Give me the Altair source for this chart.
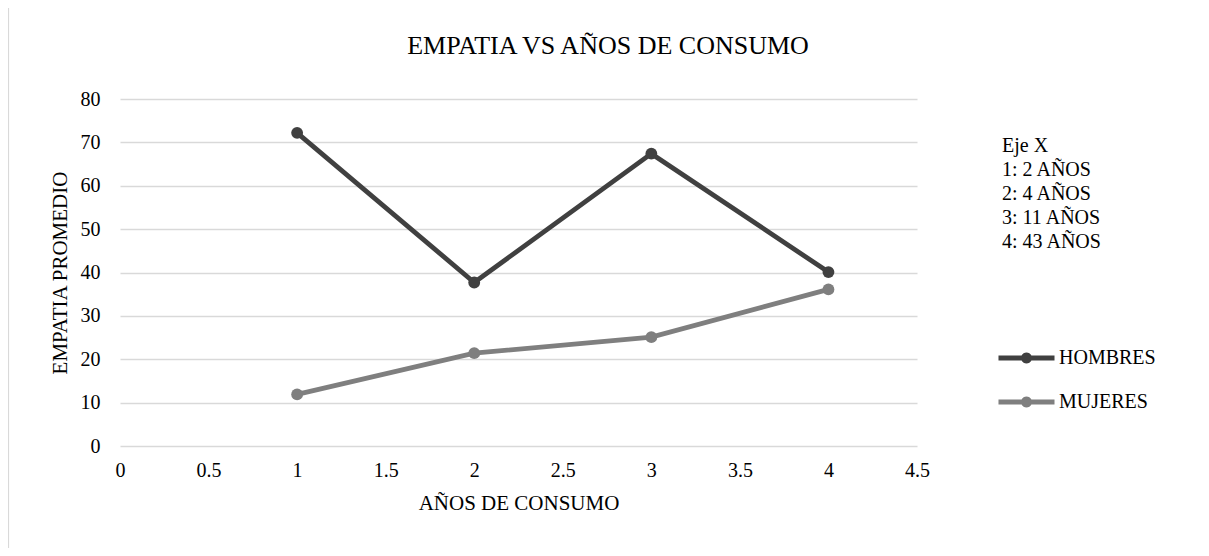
import altair as alt
import pandas as pd

# ---- data ----
anos = [1, 2, 3, 4]
hombres = [72.2, 37.7, 67.4, 40.1]
mujeres = [11.9, 21.4, 25.1, 36.1]
series_names = ["HOMBRES", "MUJERES"]
series_colors = ["#404040", "#7f7f7f"]
x_ticks = [0, 0.5, 1, 1.5, 2, 2.5, 3, 3.5, 4, 4.5]
y_ticks = [0, 10, 20, 30, 40, 50, 60, 70, 80]
title_text = "EMPATIA VS AÑOS DE CONSUMO"
x_title = "AÑOS DE CONSUMO"
y_title = "EMPATIA PROMEDIO"
note_lines = ["Eje X", "1: 2 AÑOS", "2: 4 AÑOS", "3: 11 AÑOS", "4: 43 AÑOS"]

FONT = "Liberation Serif"
W, H = 797, 347

rows = []
for name, vals in zip(series_names, [hombres, mujeres]):
    for a, v in zip(anos, vals):
        rows.append({"anos": a, "empatia": v, "serie": name})
df = pd.DataFrame(rows)

# legend symbol: line with a circle in the middle
sym = ("M-1.273,-0.114H-0.2225A0.25,0.25 0 0,1 0.2225,-0.114H1.273V0.114"
       "H0.2225A0.25,0.25 0 0,1 -0.2225,0.114H-1.273Z")

lines = alt.Chart(df).mark_line(
    strokeWidth=4.8,
    point=alt.OverlayMarkDef(size=140, filled=True, opacity=1),
).encode(
    x=alt.X("anos:Q",
            scale=alt.Scale(domain=[0, 4.5], nice=False, zero=False),
            axis=alt.Axis(values=x_ticks, format="~g", title=x_title,
                          grid=False, labelFlush=False, labelPadding=14,
                          titleY=57, titleBaseline="middle")),
    y=alt.Y("empatia:Q",
            scale=alt.Scale(domain=[0, 80], nice=False),
            axis=alt.Axis(values=y_ticks, title=y_title, grid=True,
                          labelPadding=20, titleX=-60, titleY=H / 2,
                          titleAngle=270, titleAlign="center",
                          titleBaseline="middle")),
    color=alt.Color("serie:N",
                    scale=alt.Scale(domain=series_names, range=series_colors),
                    legend=alt.Legend(title=None, orient="none",
                                      legendX=884.5, legendY=237,
                                      symbolType=sym, symbolSize=1936,
                                      symbolStrokeWidth=0, symbolOpacity=1,
                                      labelOffset=10.5, rowPadding=12,
                                      padding=0, labelFont=FONT,
                                      labelFontSize=20, labelColor="#000000")),
)

title_mark = alt.Chart(pd.DataFrame({"t": [title_text]})).mark_text(
    font=FONT, fontSize=26, color="#000000", align="center", baseline="middle"
).encode(x=alt.value(488), y=alt.value(-53), text="t:N")

note_mark = alt.Chart(pd.DataFrame({"t": ["\n".join(note_lines)]})).mark_text(
    font=FONT, fontSize=20, color="#000000", align="left", baseline="middle",
    lineBreak="\n", lineHeight=24
).encode(x=alt.value(882), y=alt.value(47), text="t:N")

border_top = alt.Chart(pd.DataFrame({"a": [0]})).mark_rule(
    color="#d9d9d9", strokeWidth=1.2
).encode(x=alt.value(-112), x2=alt.value(1100), y=alt.value(-91.5))
border_left = alt.Chart(pd.DataFrame({"a": [0]})).mark_rule(
    color="#d9d9d9", strokeWidth=1.2
).encode(x=alt.value(-111.5), y=alt.value(-92), y2=alt.value(470))

chart = alt.layer(border_top, border_left, lines, title_mark, note_mark).properties(
    width=W, height=H,
    autosize=alt.AutoSizeParams(type="none"),
    padding={"left": 112, "top": 91, "right": 284, "bottom": 102},
    background="#ffffff",
).configure_view(stroke=None).configure_axis(
    domain=False, ticks=False, tickSize=0,
    gridColor="#d9d9d9", gridWidth=1.5,
    labelFont=FONT, labelFontSize=20, labelColor="#000000",
    titleFont=FONT, titleFontSize=21, titleColor="#000000",
    titleFontWeight="normal",
)

chart.save("out.html", embed_options={"renderer": "svg", "actions": False})
